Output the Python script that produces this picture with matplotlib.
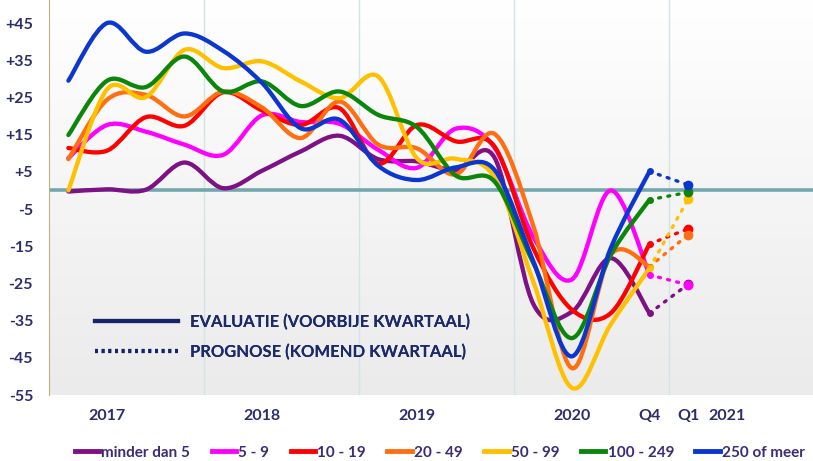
import numpy as np
import matplotlib.pyplot as plt
from matplotlib.path import Path
from matplotlib.patches import PathPatch
from matplotlib.lines import Line2D
from matplotlib.colors import LinearSegmentedColormap

plt.rcParams['font.family'] = ['Lato', 'DejaVu Sans']

# quarterly saldo per size class (Q1 2017 .. Q4 2020) + forecast for Q1 2021
series_names = ['minder dan 5', '5 - 9', '10 - 19', '20 - 49', '50 - 99', '100 - 249', '250 of meer']
series_colors = ['#7d1185', '#ff00ff', '#ff0000', '#ff6f12', '#ffc000', '#0b860b', '#0b36d0']

purple = [-0.3, 0.3, 0.2, 7.5, 0.6, 5.3, 10.5, 14.7, 8.4, 7.8, 5.5, 8.8, -30.5, -32.6, -18.2, -33.0]
magenta = [8.7, 17.6, 15.8, 12.3, 9.6, 20.2, 18.4, 17.9, 10.9, 6.1, 16.6, 11.5, -12.5, -23.9, 0.0, -22.7]
red = [11.4, 10.7, 19.7, 17.4, 26.4, 21.5, 17.6, 22.1, 7.2, 17.6, 13.2, 11.8, -15.5, -32.1, -33.0, -14.4]
orange = [8.4, 24.4, 25.7, 19.9, 26.6, 22.3, 14.1, 23.9, 12.3, 11.3, 4.3, 15.2, -9.5, -47.8, -17.3, -20.5]
yellow = [0.0, 27.2, 25.1, 37.8, 32.9, 34.7, 29.3, 24.8, 30.6, 8.6, 8.5, 3.5, -24.5, -53.1, -36.0, -20.9]
green = [14.9, 29.5, 27.8, 36.0, 26.6, 29.3, 22.7, 26.6, 20.3, 17.0, 4.0, 2.4, -19.5, -39.7, -17.3, -2.5]
blue = [29.5, 45.0, 37.3, 42.2, 37.5, 28.9, 16.7, 19.0, 6.6, 2.8, 6.2, 5.5, -19.0, -44.6, -15.5, 5.1]

forecast = [-25.2, -25.4, -10.3, -11.9, -2.3, -0.5, 1.5]

tick_pos = [1, 5, 9, 13, 15, 16, 17]
tick_labels = ['2017', '2018', '2019', '2020', 'Q4', 'Q1', '2021']
y_ticks = list(range(-55, 46, 10))

navy = '#2b2d6e'


def smooth_path(xs, ys):
    # excel-like smoothed line: cubic bezier through every point
    pts = np.column_stack([xs, ys])
    n = len(pts)
    verts = [pts[0]]
    codes = [Path.MOVETO]
    for i in range(n - 1):
        p0 = pts[i - 1] if i > 0 else pts[i]
        p1 = pts[i]
        p2 = pts[i + 1]
        p3 = pts[i + 2] if i + 2 < n else pts[i + 1]
        c1 = p1 + (p2 - p0) / 6
        c2 = p2 - (p3 - p1) / 6
        verts += [c1, c2, p2]
        codes += [Path.CURVE4] * 3
    return Path(verts, codes)


fig = plt.figure(figsize=(8.13, 4.61), dpi=100)
ax = fig.add_axes([49 / 813, 66 / 461, 764 / 813, 395 / 461])
ax.set_xlim(-0.5, 19.22)
ax.set_ylim(-55, 51.2)

# background gradient
grad = np.linspace(1, 0, 256).reshape(-1, 1)
ax.imshow(grad, extent=[0, 1, 0, 1], transform=ax.transAxes, aspect='auto',
          cmap=LinearSegmentedColormap.from_list('bg', ['#ebebeb', '#ffffff']),
          zorder=0)

for k in range(1, 5):
    ax.axvline(4 * k - 0.5, color='#d4e3e6', lw=1, zorder=1)
ax.axhline(0, color='#72a7ad', lw=2.6, zorder=2)

all_series = [purple, magenta, red, orange, yellow, green, blue]
x = np.arange(len(purple))
for vals, col, fc in zip(all_series, series_colors, forecast):
    ax.add_patch(PathPatch(smooth_path(x, vals), fill=False, edgecolor=col, lw=3.1,
                           capstyle='round', joinstyle='round', zorder=3))
    ax.plot([x[-1], x[-1] + 1], [vals[-1], fc], color=col, lw=2.4,
            linestyle=(0, (0.6, 2.2)), dash_capstyle='round', zorder=3)
    ax.plot([x[-1]], [vals[-1]], 'o', color=col, ms=4, zorder=4)
    ax.plot([x[-1] + 1], [fc], 'o', color=col, ms=6, zorder=4)

ax.set_yticks(y_ticks)
ax.set_yticklabels([f'+{v}' if v > 0 else f'{v}' for v in y_ticks])
ax.set_xticks(tick_pos)
ax.set_xticklabels(tick_labels)
ax.tick_params(length=0, labelsize=11.5, labelcolor=navy)
ax.tick_params(axis='y', pad=11.5)
ax.tick_params(axis='x', pad=10)
for lab in ax.get_xticklabels() + ax.get_yticklabels():
    lab.set_fontweight('bold')

for s in ['top', 'right', 'bottom']:
    ax.spines[s].set_visible(False)
ax.spines['left'].set_color('#b7b37a')
ax.spines['left'].set_zorder(5)

# explanation of line styles
style_handles = [Line2D([], [], color='#17236b', lw=3),
                 Line2D([], [], color='#17236b', lw=3, linestyle=(0, (0.7, 0.9)))]
leg1 = ax.legend(style_handles, ['EVALUATIE (VOORBIJE KWARTAAL)', 'PROGNOSE (KOMEND KWARTAAL)'],
                 loc='center left', bbox_to_anchor=(0.05, 0.147), frameon=False,
                 borderpad=0, handlelength=5.0, handletextpad=0.75, labelspacing=0.85,
                 prop={'weight': 'bold', 'size': 11.9})
for t in leg1.get_texts():
    t.set_color('#1b2a6b')
ax.add_artist(leg1)

# series legend
handles = [Line2D([], [], color=c, lw=3.5) for c in series_colors]
leg2 = fig.legend(handles, series_names, loc='center', bbox_to_anchor=(0.541, 0.018),
                  ncol=7, frameon=False, handlelength=1.6, handletextpad=0.15,
                  columnspacing=1.4, prop={'weight': 'bold', 'size': 11})
for t in leg2.get_texts():
    t.set_color('#3a2c78')

fig.savefig('out.png', dpi=100)
